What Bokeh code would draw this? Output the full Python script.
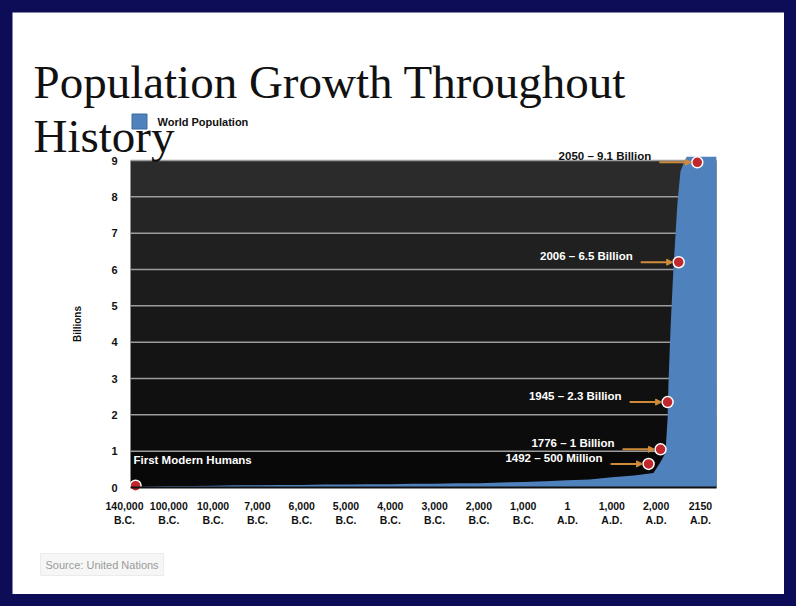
import numpy as np
from bokeh.plotting import figure
from bokeh.models import Label, FixedTicker, Range1d, Arrow, NormalHead
from bokeh.layouts import column
from bokeh.embed import file_html
from bokeh.resources import INLINE

# ---------------- data ----------------
tick_labels = ["140,000\nB.C.", "100,000\nB.C.", "10,000\nB.C.", "7,000\nB.C.",
               "6,000\nB.C.", "5,000\nB.C.", "4,000\nB.C.", "3,000\nB.C.",
               "2,000\nB.C.", "1,000\nB.C.", "1\nA.D.", "1,000\nA.D.",
               "2,000\nA.D.", "2150\nA.D."]
y_ticks = [0, 1, 2, 3, 4, 5, 6, 7, 8, 9]

# world population (billions) along the category positions of the axis
pop_x = [0.14, 0.5, 1.0, 1.5, 2.0, 2.5, 3.0, 3.5, 4.0, 4.5, 5.0, 5.5, 6.0, 6.5,
         7.0, 7.5, 8.0, 8.5, 9.0, 9.5, 10.0, 10.5, 11.0, 11.5, 11.94, 12.1,
         12.21, 12.26, 12.28, 12.33, 12.39, 12.48, 12.55, 12.63, 12.69, 13.36]
pop_y = [0.01, 0.03, 0.04, 0.04, 0.05, 0.06, 0.06, 0.07, 0.07, 0.08, 0.08, 0.09,
         0.09, 0.1, 0.1, 0.12, 0.12, 0.14, 0.15, 0.17, 0.2, 0.22, 0.28, 0.33,
         0.4, 0.7, 0.95, 1.9, 2.9, 4.5, 6.0, 7.8, 8.7, 8.95, 9.1, 9.1]

ann_labels = ["1492 – 500 Million", "1776 – 1 Billion", "1945 – 2.3 Billion",
              "2006 – 6.5 Billion", "2050 – 9.1 Billion"]
ann_x = [11.83, 12.1, 12.26, 12.51, 12.93]
ann_y = [0.65, 1.05, 2.35, 6.2, 8.95]
ann_text_color = ["white", "white", "white", "white", "#111111"]

start_label = "First Modern Humans"
start_x = [0.25]
start_y = [0.05]

# ---------------- geometry / style ----------------
W, H, PAD = 772, 582, 12        # figure size inside the navy slide border
X0PX, XU = 124.0, 44.3          # window px of category 0, px per category
Y0PX, YU = 487.0, 327.0 / 9     # window px of y=0, px per billion
PLOT_X0, PLOT_X1 = (130 - X0PX) / XU, (716 - X0PX) / XU   # plot-area extents

def dx(wx):  # window pixel -> data x
    return (wx - X0PX) / XU

def dy(wy):  # window pixel -> data y
    return (Y0PX - wy) / YU

BLUE = "#4f81bd"
SANS = "Liberation Sans"

p = figure(width=W, height=H,
           x_range=Range1d(dx(PAD), dx(PAD + W)), y_range=Range1d(dy(PAD + H), dy(PAD)),
           output_backend="svg", toolbar_location=None,
           min_border_left=0, min_border_right=0, min_border_top=0, min_border_bottom=0,
           background_fill_color="white", border_fill_color="white",
           outline_line_color=None)

# dark gradient plot area
band_cols = ["#080808", "#0c0c0c", "#101010", "#141414", "#181818",
             "#1c1c1c", "#202020", "#252525", "#2b2b2b"]
p.hbar(y=[t + 0.5 for t in y_ticks[:-1]], height=1.0, left=PLOT_X0, right=PLOT_X1,
       fill_color=band_cols, line_color=None)
# horizontal gridlines
p.segment(x0=PLOT_X0, x1=PLOT_X1, y0=y_ticks[1:], y1=y_ticks[1:],
          line_color="#9c9c9c", line_width=1.5)

p.varea(x=pop_x, y1=[0] * len(pop_x), y2=pop_y, fill_color=BLUE)

p.xgrid.grid_line_color = None
p.ygrid.grid_line_color = None

# axes drawn at the plot-area edges
p.xaxis.fixed_location = 0
p.yaxis.fixed_location = PLOT_X0
p.xaxis.bounds = (PLOT_X0, PLOT_X1)
p.yaxis.bounds = (0, 9)
p.xaxis.ticker = FixedTicker(ticks=list(range(len(tick_labels))))
p.xaxis.major_label_overrides = {i: t for i, t in enumerate(tick_labels)}
p.yaxis.ticker = FixedTicker(ticks=y_ticks)
for ax in (p.xaxis[0], p.yaxis[0]):
    ax.major_tick_line_color = None
    ax.minor_tick_line_color = None
    ax.major_tick_out = 0
    ax.major_tick_in = 0
    ax.minor_tick_out = 0
    ax.major_label_text_font = SANS
    ax.major_label_text_font_style = "bold"
    ax.major_label_text_color = "#111111"
p.xaxis.major_label_text_font_size = "10.5px"
p.yaxis.major_label_text_font_size = "11px"
p.xaxis.axis_line_color = "#111111"
p.xaxis.axis_line_width = 2
p.yaxis.axis_line_color = None
p.xaxis.major_label_standoff = 12
p.yaxis.major_label_standoff = 13
p.yaxis.axis_label = "Billions"
p.yaxis.axis_label_text_font = SANS
p.yaxis.axis_label_text_font_style = "bold"
p.yaxis.axis_label_text_font_size = "10px"
p.yaxis.axis_label_text_color = "#111111"
p.yaxis.axis_label_standoff = 25

# annotation arrows, markers, texts
for ax_, ay_, lab, col in zip(ann_x, ann_y, ann_labels, ann_text_color):
    p.add_layout(Arrow(x_start=ax_ - 38 / XU, y_start=ay_, x_end=ax_ - 6 / XU, y_end=ay_,
                       line_color="#d08b3a", line_width=2,
                       end=NormalHead(size=6, fill_color="#d08b3a", line_color="#d08b3a")))
    p.add_layout(Label(x=ax_ - 46 / XU, y=ay_ + 6 / YU, text=lab, text_align="right",
                       text_baseline="middle", text_color=col, text_font=SANS,
                       text_font_style="bold", text_font_size="11.5px"))

p.scatter(x=ann_x, y=ann_y, size=11, fill_color="#c0282d", line_color="white", line_width=1.5)
p.scatter(x=start_x, y=start_y, size=11, fill_color="#c0282d", line_color="white", line_width=1.5)
p.add_layout(Label(x=dx(133), y=dy(459), text=start_label, text_align="left",
                   text_baseline="middle", text_color="white", text_font=SANS,
                   text_font_style="bold", text_font_size="11.5px"))

# title
for txt, wy in (("Population Growth Throughout", 81), ("History", 135)):
    p.add_layout(Label(x=dx(33), y=dy(wy), text=txt, text_align="left",
                       text_baseline="alphabetic", text_color="#111111",
                       text_font="Liberation Serif", text_font_size="47px"))

# legend
p.scatter(x=[dx(139)], y=[dy(121)], marker="square", size=15, fill_color=BLUE,
          line_color="#3b6aa0", line_width=1)
p.add_layout(Label(x=dx(157), y=dy(121), text="World Population", text_align="left",
                   text_baseline="middle", text_color="#111111", text_font=SANS,
                   text_font_style="bold", text_font_size="11px"))

# source note
p.add_layout(Label(x=dx(40), y=dy(564), text="Source: United Nations", text_align="left",
                   text_baseline="middle", text_color="#9a9a9a", text_font=SANS,
                   text_font_size="11px", background_fill_color="#f6f6f6",
                   border_line_color="#ebebeb", padding=5))

layout = column(p, styles={"background-color": "#0d0d57", "padding": "12px"})
open("out.html", "w").write(file_html(layout, INLINE))
